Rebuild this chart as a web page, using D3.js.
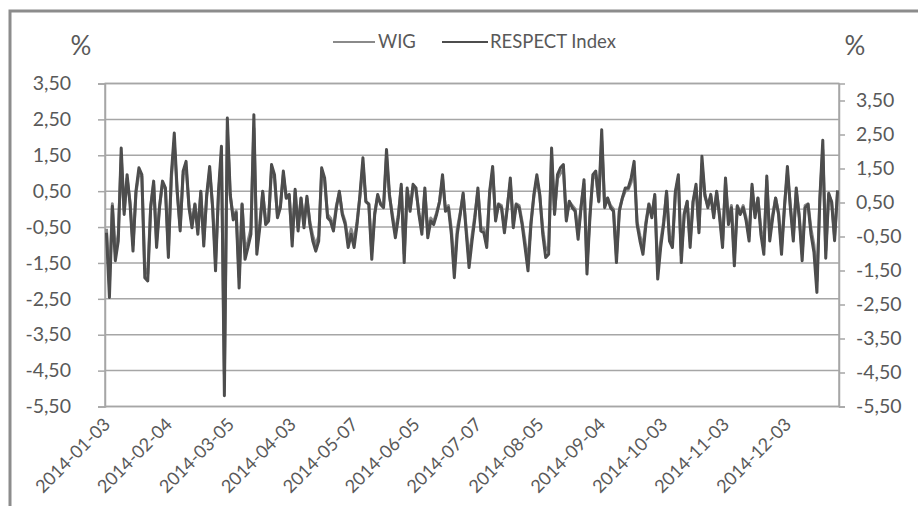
<!DOCTYPE html>
<html><head><meta charset="utf-8">
<script src="https://cdn.jsdelivr.net/npm/d3@7"></script>
<style>body{margin:0;background:#fff}svg{display:block}</style>
</head><body>
<svg id="c" width="918" height="506"></svg>
<script>
const tickLabels = ["2014-01-03","2014-02-04","2014-03-05","2014-04-03","2014-05-07","2014-06-05","2014-07-07","2014-08-05","2014-09-04","2014-10-03","2014-11-03","2014-12-03"];
const labelStep = 21;
const seriesNames = ["WIG","RESPECT Index"];
const leftTicks = [3.5,2.5,1.5,0.5,-0.5,-1.5,-2.5,-3.5,-4.5,-5.5];
const rightTicks = [3.5,2.5,1.5,0.5,-0.5,-1.5,-2.5,-3.5,-4.5,-5.5];

const wig = [-0.55,-2.10,0.15,-1.20,-0.70,1.45,-0.05,0.85,0.20,-1.00,
0.45,1.00,0.90,-1.65,-1.80,0.10,0.70,-0.90,0.10,0.70,
0.55,-1.15,0.85,1.85,0.45,-0.50,0.95,1.15,0.10,-0.40,
0.15,-0.55,0.45,-0.85,0.35,1.05,0.10,-1.45,0.40,1.50,
-4.60,2.20,0.35,-0.20,-0.05,-1.90,0.15,-1.20,-0.90,-0.55,
2.25,-1.05,-0.40,0.45,-0.30,-0.25,1.10,0.85,-0.15,0.10,
0.95,0.30,0.35,-0.85,0.50,-0.50,0.30,-0.40,0.30,-0.35,
-0.75,-1.00,-0.75,1.00,0.80,-0.15,-0.25,-0.50,0.10,0.45,
-0.10,-0.35,-0.90,-0.55,-0.90,-0.35,0.35,1.25,0.20,0.15,
-1.20,-0.10,0.35,0.15,0.10,1.45,0.35,-0.15,-0.65,-0.15,
0.60,-1.25,0.50,0.00,0.60,0.50,-0.10,-0.55,0.50,-0.65,
-0.25,-0.35,-0.10,0.20,0.85,0.00,0.10,-0.55,-1.65,-0.55,
-0.10,0.40,-0.50,-1.40,-0.75,-0.15,0.50,-0.50,-0.55,-0.90,
0.45,1.05,-0.25,0.15,0.10,-0.55,0.10,0.75,-0.40,0.15,
0.10,-0.35,-0.90,-1.50,-0.35,0.35,0.85,0.35,-0.55,-1.15,
-1.05,1.50,-0.10,0.85,1.00,1.10,-0.25,0.20,0.10,0.00,
-0.70,0.10,0.70,-1.55,-0.15,0.85,0.95,0.20,1.90,0.10,
0.30,0.10,0.00,-1.30,0.00,0.30,0.50,0.55,0.75,1.15,
-0.35,-0.75,-1.05,-0.35,0.15,-0.15,0.35,-1.70,-0.90,-0.35,
0.45,-0.75,-0.90,0.45,0.85,-1.30,-0.10,0.20,-0.90,0.20,
0.60,-0.55,1.25,0.35,0.10,0.35,-0.15,0.45,-0.15,-0.90,
0.75,-0.35,0.10,-1.35,0.10,-0.10,0.10,-0.25,-0.75,0.60,
-0.15,0.30,-0.55,-1.05,0.80,-0.75,-0.15,0.30,-0.10,-1.05,
0.10,1.00,0.10,-0.75,0.50,-0.15,-1.25,0.10,0.15,-0.55,
-1.00,-2.00,0.25,1.65,-1.15,0.40,0.20,-0.75,0.45];

const respect = [-0.66,-2.46,0.08,-1.44,-0.89,1.70,-0.15,0.96,0.13,-1.17,
0.50,1.15,0.96,-1.91,-2.00,0.04,0.78,-1.07,0.04,0.78,
0.59,-1.35,0.96,2.12,0.50,-0.61,1.06,1.33,0.04,-0.52,
0.13,-0.70,0.50,-1.03,0.40,1.19,0.04,-1.72,0.50,1.75,
-5.20,2.54,0.40,-0.30,-0.10,-2.20,0.13,-1.40,-1.07,-0.70,
2.63,-1.26,-0.52,0.50,-0.43,-0.33,1.24,0.96,-0.24,0.04,
1.06,0.31,0.41,-1.03,0.55,-0.61,0.31,-0.52,0.36,-0.43,
-0.89,-1.17,-0.89,1.15,0.87,-0.24,-0.33,-0.61,0.04,0.50,
-0.15,-0.43,-1.07,-0.70,-1.07,-0.43,0.41,1.43,0.22,0.13,
-1.40,-0.15,0.41,0.13,0.04,1.66,0.41,-0.24,-0.80,-0.24,
0.69,-1.49,0.59,-0.06,0.69,0.59,-0.15,-0.70,0.59,-0.80,
-0.33,-0.43,-0.15,0.22,0.96,-0.06,0.04,-0.70,-1.91,-0.70,
-0.15,0.45,-0.61,-1.63,-0.90,-0.24,0.59,-0.61,-0.66,-1.07,
0.50,1.19,-0.33,0.13,0.04,-0.66,0.04,0.87,-0.52,0.13,
0.04,-0.43,-1.07,-1.72,-0.43,0.41,0.96,0.41,-0.70,-1.35,
-1.26,1.70,-0.15,0.96,1.15,1.24,-0.33,0.22,0.04,-0.06,
-0.84,0.04,0.82,-1.81,-0.24,0.96,1.06,0.22,2.21,0.04,
0.31,0.04,-0.06,-1.49,-0.06,0.31,0.59,0.59,0.87,1.33,
-0.43,-0.89,-1.26,-0.43,0.13,-0.24,0.41,-1.95,-1.07,-0.43,
0.50,-0.89,-1.07,0.50,0.96,-1.49,-0.15,0.22,-1.07,0.22,
0.69,-0.66,1.47,0.41,0.04,0.41,-0.24,0.50,-0.24,-1.07,
0.87,-0.43,0.04,-1.58,0.08,-0.15,0.04,-0.33,-0.89,0.69,
-0.24,0.31,-0.70,-1.26,0.92,-0.89,-0.24,0.31,-0.15,-1.26,
0.04,1.19,0.04,-0.89,0.59,-0.24,-1.44,0.04,0.13,-0.70,
-1.20,-2.32,0.30,1.92,-1.37,0.44,0.20,-0.88,0.52];

const FONT = "Lato, 'Open Sans', sans-serif";
const svg = d3.select("#c");
const P = {left:105, right:839, top:83.5, bottom:406.5};
const N = respect.length;
const x = d3.scaleBand().domain(d3.range(N)).range([P.left, P.right]);
const cx = i => x(i) + x.bandwidth()/2;
const y = d3.scaleLinear().domain([-5.5, 3.5]).range([P.bottom, P.top]);
const y2 = d3.scaleLinear().domain([-5.5, 4.0]).range([P.bottom, P.top]);
const fmt = d => d.toFixed(2).replace(".", ",");

// outer frame
svg.append("rect").attr("x",10).attr("y",11).attr("width",960).attr("height",600)
  .attr("fill","none").attr("stroke","#8c8c8c").attr("stroke-width",3);

// gridlines
svg.append("g").selectAll("line").data(leftTicks).join("line")
  .attr("x1",P.left).attr("x2",P.right)
  .attr("y1",d=>y(d)).attr("y2",d=>y(d))
  .attr("stroke","#a6a6a6").attr("stroke-width",1.5);
// zero (category axis) line
svg.append("line").attr("x1",P.left).attr("x2",P.right)
  .attr("y1",y(0)).attr("y2",y(0)).attr("stroke","#a6a6a6").attr("stroke-width",1.2);
// plot area frame
svg.append("rect").attr("x",P.left).attr("y",P.top).attr("width",P.right-P.left).attr("height",P.bottom-P.top)
  .attr("fill","none").attr("stroke","#a6a6a6").attr("stroke-width",1.5);

// left axis
const gl = svg.append("g").attr("transform",`translate(${P.left},0)`)
  .call(d3.axisLeft(y).tickValues(leftTicks).tickSize(7).tickPadding(27).tickFormat(fmt));
// right axis
const gr = svg.append("g").attr("transform",`translate(${P.right},0)`)
  .call(d3.axisRight(y2).tickValues(rightTicks).tickSize(6).tickPadding(11).tickFormat(fmt));
[gl,gr].forEach(g=>{
  g.select(".domain").attr("stroke","#a6a6a6").attr("stroke-width",1.5);
  g.selectAll(".tick line").attr("stroke","#a6a6a6").attr("stroke-width",1.5);
  g.selectAll(".tick text").attr("fill","#595959").style("font-family",FONT).style("font-size","19.5px");
});

// x labels
const labIdx = tickLabels.map((_,k)=>k*labelStep);
svg.append("g").selectAll("text").data(labIdx).join("text")
  .attr("transform",i=>`translate(${cx(i)+5},${P.bottom+19}) rotate(-45)`)
  .attr("text-anchor","end").attr("fill","#595959")
  .style("font-family",FONT).style("font-size","18px")
  .text((i,k)=>tickLabels[k]);

// lines
const line = d3.line().x((d,i)=>cx(i)).y(d=>y(d));
svg.append("path").datum(wig).attr("d",line).attr("fill","none")
  .attr("stroke","#8a8a8a").attr("stroke-width",3).attr("stroke-linejoin","round");
svg.append("path").datum(respect).attr("d",line).attr("fill","none")
  .attr("stroke","#4d4d4d").attr("stroke-width",3).attr("stroke-linejoin","round");

// percent signs
svg.append("text").attr("x",81).attr("y",55).attr("text-anchor","middle").attr("fill","#595959")
  .style("font-family",FONT).style("font-size","26px").text("%");
svg.append("text").attr("x",855).attr("y",55).attr("text-anchor","middle").attr("fill","#595959")
  .style("font-family",FONT).style("font-size","26px").text("%");

// legend
const leg = [{x1:333,x2:375,tx:378,c:"#8a8a8a",name:seriesNames[0]},{x1:442,x2:488,tx:490,c:"#4d4d4d",name:seriesNames[1]}];
const lg = svg.append("g");
lg.selectAll("line").data(leg).join("line")
  .attr("x1",d=>d.x1).attr("x2",d=>d.x2).attr("y1",42).attr("y2",42)
  .attr("stroke",d=>d.c).attr("stroke-width",2);
lg.selectAll("text").data(leg).join("text")
  .attr("x",d=>d.tx).attr("y",48).attr("fill","#595959")
  .style("font-family",FONT).style("font-size","18.5px").text(d=>d.name);
</script>
</body></html>
